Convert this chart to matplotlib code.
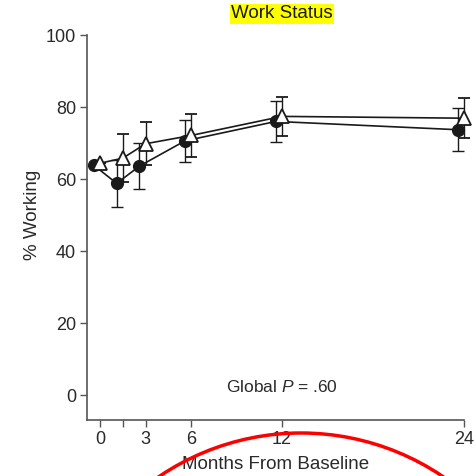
import matplotlib
matplotlib.use("Agg")
import matplotlib.pyplot as plt
from matplotlib.patches import Ellipse

plt.rcParams["font.family"] = ["Liberation Sans", "DejaVu Sans"]
plt.rcParams["mathtext.fontset"] = "custom"
plt.rcParams["mathtext.rm"] = "Liberation Sans"
plt.rcParams["mathtext.it"] = "Liberation Sans:italic"

# months from baseline (tick positions) and the small offset used for circles
months = [0, 1.5, 3, 6, 12, 24]
tick_labels = ["0", "", "3", "6", "12", "24"]
circle_offset = -0.4

circle_vals = [63.8, 58.8, 63.6, 70.6, 76.0, 73.7]
circle_err = [0.0, 6.5, 6.4, 5.8, 5.8, 6.0]
triangle_vals = [64.4, 65.8, 69.8, 72.1, 77.4, 76.9]
triangle_err = [0.0, 6.7, 6.0, 6.1, 5.5, 5.6]

yticks = [0, 20, 40, 60, 80, 100]

W, H = 477, 476
fig = plt.figure(figsize=(W / 100, H / 100), dpi=100)
ax = fig.add_axes([87 / W, 1 - 420 / H, (464 - 87) / W, (420 - 35) / H])

ink = "#1a1a1a"
axis_col = "#555555"
txt = "#2a2a2a"

cx = [m + circle_offset for m in months]
c = ax.errorbar(cx, circle_vals, yerr=circle_err, color=ink, lw=1.2, elinewidth=1.0,
                capsize=4.5, capthick=1.0, marker="o", ms=8.5, mfc=ink, mec=ink, zorder=3)
t = ax.errorbar(months, triangle_vals, yerr=triangle_err, color=ink, lw=1.2, elinewidth=1.0,
                capsize=4.5, capthick=1.0, marker="^", ms=9.5, mfc="white", mec=ink, mew=1.3,
                zorder=4)
for cont in (c, t):
    for art in cont.get_children():
        art.set_clip_on(False)

ax.set_xlim(-0.86, 24)
ax.set_ylim(-6.9, 100)
ax.set_xticks(months)
ax.set_xticklabels(tick_labels)
ax.set_yticks(yticks)

for side in ("top", "right"):
    ax.spines[side].set_visible(False)
for side in ("left", "bottom"):
    ax.spines[side].set_color(axis_col)
    ax.spines[side].set_linewidth(1.2)
ax.tick_params(direction="out", length=5, width=1.0, color=axis_col,
               labelsize=13, labelcolor=txt, pad=3)

ax.set_ylabel("% Working", fontsize=13.5, color=txt)
ax.yaxis.set_label_coords(-0.122, 0.532)
ax.set_xlabel("Months From Baseline", fontsize=13.5, color=txt, labelpad=6)

ax.text(12.0, 2.3, "Global $P$ = .60", ha="center", va="center",
        fontsize=12.5, color=txt)

fig.text(282 / W, 1 - 14 / H, "Work Status", ha="center", va="center",
         fontsize=13.5, color=ink,
         bbox=dict(boxstyle="square,pad=0.08", fc="#ffff00", ec="none"))

# red hand-drawn style annotation arc at the bottom
arc = Ellipse((301 / W, 1 - 686 / H), 2 * 253 / W, 2 * 253 / H,
              transform=fig.transFigure, fill=False, ec="#ff0000", lw=2.5,
              clip_on=False)
fig.patches.append(arc)

fig.savefig("out.png", dpi=100)
